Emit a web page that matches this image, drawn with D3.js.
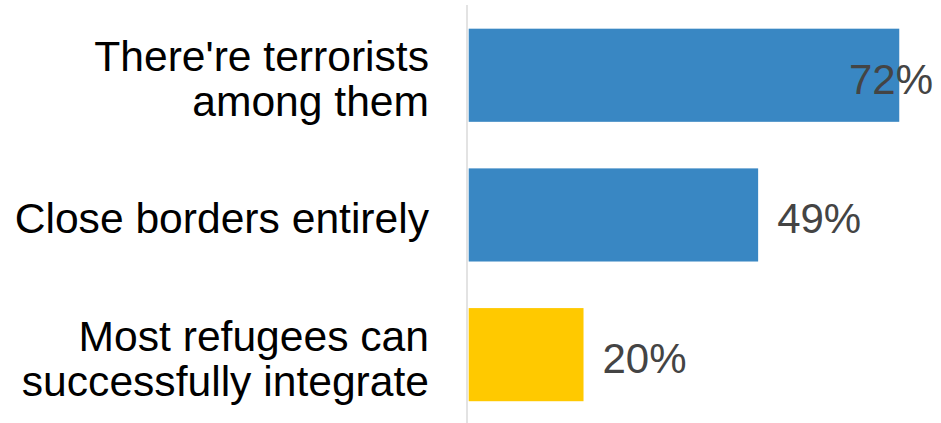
<!DOCTYPE html>
<html><head><meta charset="utf-8">
<script src="https://cdn.jsdelivr.net/npm/d3@7"></script>
<style>html,body{margin:0;padding:0;background:#fff;overflow:hidden}</style>
</head><body>
<svg id="c" width="941" height="423"></svg>
<script>
const categories = [
  ["There're terrorists", "among them"],
  ["Close borders entirely"],
  ["Most refugees can", "successfully integrate"]
];
const values = [72, 48.4, 19.2];
const valueLabels = ["72%", "49%", "20%"];
const barColors = ["#3987c3", "#3987c3", "#ffc900"];

const W = 941, H = 423;
const svg = d3.select("#c");
const ids = d3.range(values.length);
const y = d3.scaleBand().domain(ids).range([5.4, 424.5]).paddingInner(1/3).paddingOuter(1/6);
const x = d3.scaleLinear().domain([0, 100]).range([468.7, 468.7 + 598]);

svg.append("line").attr("x1", 467).attr("x2", 467).attr("y1", 5).attr("y2", H)
  .attr("stroke", "#dcdcdc").attr("stroke-width", 1.6);

svg.selectAll("rect.bar").data(ids).enter().append("rect")
  .attr("x", x(0)).attr("y", i => y(i))
  .attr("width", i => x(values[i]) - x(0)).attr("height", y.bandwidth())
  .attr("fill", i => barColors[i]);

const font = "'Liberation Sans', Arial, sans-serif";
const lh = 45;
ids.forEach(i => {
  const cy = y(i) + y.bandwidth() / 2;
  const lines = categories[i];
  const t = svg.append("text").attr("text-anchor", "end")
    .attr("font-family", font).attr("font-size", 42.6).attr("fill", "#000");
  lines.forEach((ln, k) => {
    t.append("tspan").attr("x", 429)
      .attr("y", cy + 18.5 + (k - (lines.length - 1) / 2) * lh).text(ln);
  });
  const v = svg.append("text").attr("font-family", font).attr("font-size", 42)
    .attr("fill", "#444").attr("y", cy + 18.5).text(valueLabels[i]);
  const tw = v.node().getComputedTextLength();
  v.attr("x", Math.min(x(values[i]) + 19, 933 - tw));
});
</script>
</body></html>
